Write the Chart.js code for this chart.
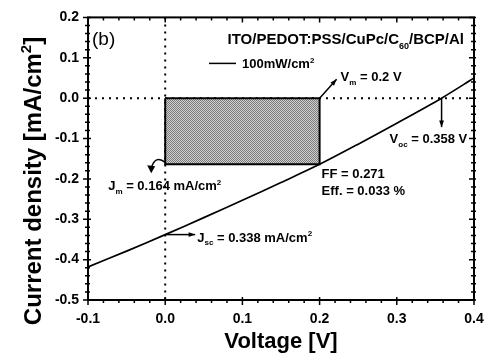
<!DOCTYPE html>
<html><head><meta charset="utf-8">
<script src="https://cdn.jsdelivr.net/npm/chart.js@4.4.1/dist/chart.umd.min.js"></script>
<style>html,body{margin:0;padding:0;background:#fff}</style>
</head><body>
<canvas id="c" width="495" height="362"></canvas>
<script>
// ---- data ----
const voltage = [-0.1, -0.05, 0, 0.05, 0.1, 0.15, 0.2, 0.25, 0.3, 0.358, 0.4];
const currentDensity = [-0.418, -0.379, -0.338, -0.296, -0.253, -0.209, -0.164, -0.114, -0.062, 0, 0.050];
const xTicks = [-0.1, 0, 0.1, 0.2, 0.3, 0.4];
const yTicks = [-0.5, -0.4, -0.3, -0.2, -0.1, 0, 0.1, 0.2];
const Vm = 0.2, Jm = -0.164, Voc = 0.358, Jsc = -0.338;
const FF = '0.271', Eff = '0.033';
const panelLabel = '(b)';
const legendLabel = '100mW/cm';

const FAM = '"Liberation Sans", Arial, Helvetica, sans-serif';

function makePattern() {
  const c = document.createElement('canvas'); c.width = 4; c.height = 4;
  const g = c.getContext('2d');
  for (let i = 0; i < 4; i++) for (let j = 0; j < 4; j++) {
    g.fillStyle = ((i + j) % 2 === 0) ? '#7c7c7c' : '#cfcfcf';
    g.fillRect(i, j, 1, 1);
  }
  return document.getElementById('c').getContext('2d').createPattern(c, 'repeat');
}

function rich(ctx, parts, x, y, size, align, weight) {
  weight = weight || 'bold';
  const fN = `${weight} ${size}px ${FAM}`;
  const fS = `${weight} ${Math.round(size * 0.62)}px ${FAM}`;
  let w = 0; const ws = [];
  parts.forEach(p => { ctx.font = p[1] === 'n' ? fN : fS; const m = ctx.measureText(p[0]).width; ws.push(m); w += m; });
  if (align === 'right') x -= w; else if (align === 'center') x -= w / 2;
  ctx.textAlign = 'left'; ctx.textBaseline = 'alphabetic';
  parts.forEach((p, i) => {
    ctx.font = p[1] === 'n' ? fN : fS;
    let yy = y;
    if (p[1] === 'b') yy = y + size * 0.3;
    if (p[1] === 'p') yy = y - size * 0.42;
    ctx.fillText(p[0], x, yy);
    x += ws[i];
  });
  return w;
}

function arrow(ctx, x1, y1, x2, y2, head) {
  head = head || 6;
  ctx.beginPath(); ctx.moveTo(x1, y1); ctx.lineTo(x2, y2); ctx.stroke();
  const a = Math.atan2(y2 - y1, x2 - x1);
  ctx.beginPath();
  ctx.moveTo(x2, y2);
  ctx.lineTo(x2 - head * Math.cos(a - 0.35), y2 - head * Math.sin(a - 0.35));
  ctx.lineTo(x2 - head * Math.cos(a + 0.35), y2 - head * Math.sin(a + 0.35));
  ctx.closePath(); ctx.fill();
}

const frameAndNotes = {
  id: 'frameAndNotes',
  afterDraw(chart) {
    const ctx = chart.ctx, ca = chart.chartArea;
    const xs = chart.scales.x, ys = chart.scales.y;
    const X = v => xs.getPixelForValue(v), Y = v => ys.getPixelForValue(v);
    ctx.save();
    ctx.strokeStyle = '#000'; ctx.fillStyle = '#000';
    // frame
    ctx.lineWidth = 2;
    ctx.strokeRect(ca.left, ca.top, ca.right - ca.left, ca.bottom - ca.top);
    // ticks
    ctx.lineWidth = 1.5;
    ctx.beginPath();
    for (let i = 0; i <= 25; i++) {
      const v = xTicks[0] + i * 0.02, px = X(v), major = i % 5 === 0;
      ctx.moveTo(px, ca.bottom - (major ? 3 : 0)); ctx.lineTo(px, ca.bottom + (major ? 5 : 3));
      ctx.moveTo(px, ca.top + (major ? 5 : 3)); ctx.lineTo(px, ca.top);
    }
    for (let i = 0; i <= 35; i++) {
      const v = yTicks[0] + i * 0.02, py = Y(v), major = i % 5 === 0;
      ctx.moveTo(ca.left - (major ? 5 : 3), py); ctx.lineTo(ca.left + (major ? 3 : 2), py);
      ctx.moveTo(ca.right - (major ? 5 : 3), py); ctx.lineTo(ca.right + 2, py);
    }
    ctx.stroke();

    // axis titles
    ctx.textAlign = 'center'; ctx.textBaseline = 'middle';
    ctx.font = `bold 22px ${FAM}`;
    ctx.fillText('Voltage [V]', (ca.left + ca.right) / 2, ca.bottom + 42);
    ctx.save();
    ctx.translate(41, 181); ctx.rotate(-Math.PI / 2);
    rich(ctx, [['Current density [mA/cm', 'n'], ['2', 'p'], [']', 'n']], 0, 0, 24, 'center');
    ctx.restore();

    // panel label and device title
    rich(ctx, [[panelLabel, 'n']], ca.left + 4, ca.top + 28, 19, 'left', 'normal');
    rich(ctx, [['ITO/PEDOT:PSS/CuPc/C', 'n'], ['60', 'b'], ['/BCP/Al', 'n']], ca.right - 10, ca.top + 27, 15, 'right');
    // legend
    ctx.lineWidth = 1.5;
    ctx.beginPath(); ctx.moveTo(ca.left + 121, ca.top + 46); ctx.lineTo(ca.left + 148, ca.top + 46); ctx.stroke();
    rich(ctx, [[legendLabel, 'n'], ['2', 'p']], ca.left + 154, ca.top + 51, 13, 'left');

    // annotations
    ctx.lineWidth = 1.5;
    const mx = X(Vm), my = Y(0);
    arrow(ctx, mx, my, mx + 17, my - 19, 7);
    rich(ctx, [['V', 'n'], ['m', 'b'], [' = ' + Vm.toFixed(1) + ' V', 'n']], mx + 21, my - 17, 13, 'left');

    const ox = X(Voc);
    arrow(ctx, ox, my, ox, my + 29, 7);
    rich(ctx, [['V', 'n'], ['oc', 'b'], [' = ' + Voc.toFixed(3) + ' V', 'n']], ox - 52, my + 45, 13, 'left');

    rich(ctx, [['FF = ' + FF, 'n']], mx + 2, Y(Jm) + 14, 13, 'left');
    rich(ctx, [['Eff. = ' + Eff + ' %', 'n']], mx + 2, Y(Jm) + 31, 13, 'left');

    const sx = X(0), sy = Y(Jsc);
    arrow(ctx, sx, sy, sx + 30, sy, 7);
    rich(ctx, [['J', 'n'], ['sc', 'b'], [' = ' + Math.abs(Jsc).toFixed(3) + ' mA/cm', 'n'], ['2', 'p']], sx + 32, sy + 7, 13, 'left');

    const jx = X(0), jy = Y(Jm);
    ctx.beginPath(); ctx.moveTo(jx, jy - 2); ctx.quadraticCurveTo(jx - 10, jy - 10, jx - 14, jy + 4); ctx.stroke();
    ctx.beginPath(); ctx.moveTo(jx - 14, jy + 9); ctx.lineTo(jx - 18, jy + 1); ctx.lineTo(jx - 10, jy + 2); ctx.closePath(); ctx.fill();
    rich(ctx, [['J', 'n'], ['m', 'b'], [' = ' + Math.abs(Jm).toFixed(3) + ' mA/cm', 'n'], ['2', 'p']], jx - 57, jy + 26, 13, 'left');
    ctx.restore();
  }
};

const curve = voltage.map((v, i) => ({ x: v, y: currentDensity[i] }));

new Chart(document.getElementById('c'), {
  type: 'scatter',
  data: {
    datasets: [
      { data: curve, showLine: true, borderColor: '#000', borderWidth: 1.7, pointRadius: 0, tension: 0.3, order: 0 },
      { data: [{ x: 0, y: 0 }, { x: Vm, y: 0 }, { x: Vm, y: Jm }, { x: 0, y: Jm }, { x: 0, y: 0 }],
        showLine: true, borderColor: '#000', borderWidth: 2, pointRadius: 0, order: 1 },
      { data: [{ x: 0, y: 0 }, { x: Vm, y: 0 }], showLine: true, borderWidth: 0, pointRadius: 0,
        fill: { value: Jm }, backgroundColor: makePattern(), order: 2 },
      { data: [{ x: xTicks[0], y: 0 }, { x: xTicks[xTicks.length - 1], y: 0 }], showLine: true,
        borderColor: '#000', borderWidth: 2, borderDash: [2, 5], pointRadius: 0, order: 3 },
      { data: [{ x: 0, y: yTicks[yTicks.length - 1] }, { x: 0, y: yTicks[0] }], showLine: true,
        borderColor: '#000', borderWidth: 2, borderDash: [2, 5], pointRadius: 0, order: 3 }
    ]
  },
  options: {
    responsive: false, animation: false, devicePixelRatio: 1,
    layout: { padding: { left: 0, right: 21, top: 11, bottom: 0 }, autoPadding: false },
    plugins: { legend: { display: false }, tooltip: { enabled: false } },
    scales: {
      x: {
        type: 'linear', min: xTicks[0], max: xTicks[xTicks.length - 1],
        afterBuildTicks: s => { s.ticks = xTicks.map(v => ({ value: v })); },
        afterFit: s => { s.height = 62; },
        ticks: { callback: v => (Math.abs(v) < 1e-9 ? 0 : v).toFixed(1), color: '#000',
          font: { family: FAM, size: 14, weight: 'bold' }, padding: 11, maxRotation: 0, autoSkip: false },
        grid: { display: false, drawTicks: false }, border: { display: false }
      },
      y: {
        type: 'linear', min: yTicks[0], max: yTicks[yTicks.length - 1],
        afterBuildTicks: s => { s.ticks = yTicks.map(v => ({ value: v })); },
        afterFit: s => { s.width = 88; },
        ticks: { callback: v => (Math.abs(v) < 1e-9 ? 0 : v).toFixed(1), color: '#000',
          font: { family: FAM, size: 14, weight: 'bold' }, padding: 9, autoSkip: false },
        grid: { display: false, drawTicks: false }, border: { display: false }
      }
    }
  },
  plugins: [frameAndNotes]
});
</script>
</body></html>
